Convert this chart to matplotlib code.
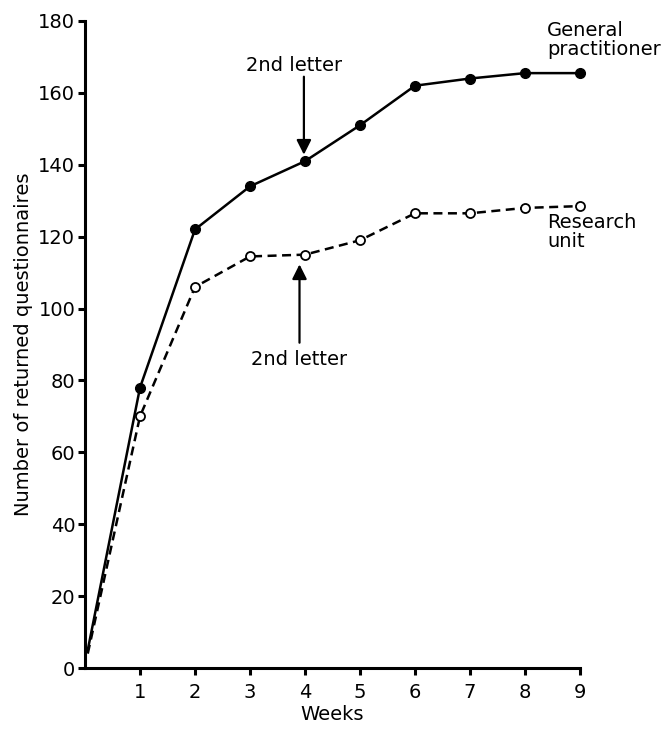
import matplotlib
matplotlib.use("Agg")
import matplotlib.pyplot as plt

weeks = [0.05, 1, 2, 3, 4, 5, 6, 7, 8, 9]
gp = [5, 78, 122, 134, 141, 151, 162, 164, 165.5, 165.5]
ru = [4, 70, 106, 114.5, 115, 119, 126.5, 126.5, 128, 128.5]
xticks = [1, 2, 3, 4, 5, 6, 7, 8, 9]
yticks = [0, 20, 40, 60, 80, 100, 120, 140, 160, 180]

plt.rcParams['font.family'] = ['DejaVu Sans']
fig = plt.figure(figsize=(6.7, 7.3), dpi=100)
ax = fig.add_axes([85/670, 62/730, 495/670, 647/730])

ax.plot(weeks, gp, color='black', lw=1.8, marker='o', ms=7,
        markerfacecolor='black', markevery=list(range(1, 10)), clip_on=False, zorder=3)
ax.plot(weeks, ru, color='black', lw=1.8, marker='o', ms=6.5,
        markerfacecolor='white', markeredgewidth=1.3, dashes=(3.6, 2.2),
        markevery=list(range(1, 10)), clip_on=False, zorder=3)

ax.set_xlim(0, 9)
ax.set_ylim(0, 180)
ax.set_xticks(xticks)
ax.set_yticks(yticks)
for s in ['top', 'right']:
    ax.spines[s].set_visible(False)
for s in ['left', 'bottom']:
    ax.spines[s].set_linewidth(2.2)
ax.tick_params(direction='out', length=5, width=2.2, labelsize=14, pad=2)
ax.tick_params(axis='x', pad=6)
ax.set_xlabel('Weeks', fontsize=14, labelpad=2)
ax.set_ylabel('Number of returned questionnaires', fontsize=14, labelpad=4)

ax.text(8.4, 180, 'General\npractitioner', fontsize=14, ha='left', va='top',
        linespacing=1.0, clip_on=False)
ax.text(8.4, 126.5, 'Research\nunit', fontsize=14, ha='left', va='top',
        linespacing=1.0, clip_on=False)

ax.text(3.81, 167.5, '2nd letter', fontsize=14, ha='center', va='center')
ax.annotate('', xy=(3.98, 142.8), xytext=(3.98, 164.5),
            arrowprops=dict(arrowstyle='-|>', color='black', lw=1.6,
                            mutation_scale=22, shrinkA=0, shrinkB=0))
ax.text(3.9, 85.7, '2nd letter', fontsize=14, ha='center', va='center')
ax.annotate('', xy=(3.9, 112.3), xytext=(3.9, 90.5),
            arrowprops=dict(arrowstyle='-|>', color='black', lw=1.6,
                            mutation_scale=22, shrinkA=0, shrinkB=0))

fig.savefig('out.png', dpi=100)
